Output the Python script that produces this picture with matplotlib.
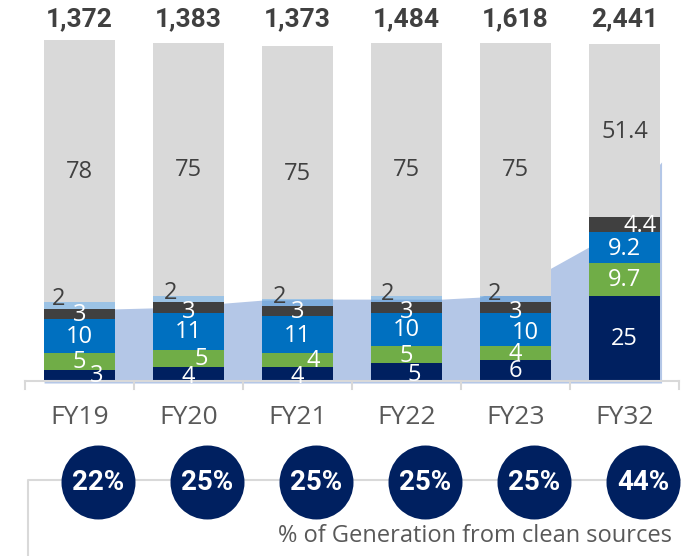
import matplotlib
matplotlib.use('Agg')
import matplotlib.pyplot as plt
from matplotlib import font_manager
import numpy as np

# ---------------- data ----------------
categories = ['FY19', 'FY20', 'FY21', 'FY22', 'FY23', 'FY32']
totals = [1372, 1383, 1373, 1484, 1618, 2441]
seg_navy = [3, 4, 4, 5, 6, 25]
seg_green = [5, 5, 4, 5, 4, 9.7]
seg_blue = [10, 11, 11, 10, 10, 9.2]
seg_dark = [3, 3, 3, 3, 3, 4.4]
seg_light = [2, 2, 2, 2, 2, 0]
seg_gray = [78, 75, 75, 75, 75, 51.4]
clean_pct = [22, 25, 25, 25, 25, 44]
# background trend area (category position, height in % units)
area_x = [-0.325, 0.325, 0.675, 1.325, 1.675, 2.325, 2.675, 3.325, 3.675, 4.325, 4.675, 5.34]
area_y = [20.5, 21.1, 21.4, 22.8, 23.7, 24.0, 24.0, 24.0, 24.6, 33.2, 39.5, 64.7]

# ---------------- fonts ----------------
names = {f.name for f in font_manager.fontManager.ttflist}
BOLD = 'Roboto' if 'Roboto' in names else 'DejaVu Sans'
REG = 'Open Sans' if 'Open Sans' in names else 'DejaVu Sans'
plt.rcParams['font.family'] = [REG, 'DejaVu Sans']

PX = 3.37  # pixels per unit
W, H = 681, 556

fig = plt.figure(figsize=(W / 100, H / 100), dpi=100)
ax = fig.add_axes([25 / W, 0, 654 / W, 1])
ax.set_xlim(-0.5, 5.5)
ax.set_ylim((380 - H) / PX, 380 / PX)
ax.axis('off')
ax.patch.set_visible(False)

x = np.arange(len(categories))
bw = 0.65

# area behind bars
ax.fill_between(area_x, area_y, -0.9, color='#b4c7e7', lw=0, zorder=1)

series = [
    (seg_navy, '#002060', 1.0, 'white'),
    (seg_green, '#70ad47', 1.0, 'white'),
    (seg_blue, '#0070c0', 1.0, 'white'),
    (seg_dark, '#404040', 1.0, 'white'),
    (seg_light, '#5b9bd5', 0.6, '#404040'),
    (seg_gray, '#d9d9d9', 1.0, '#404040'),
]

offsets = {
    (4, 0): (-21, 8), (4, 1): (-18, 7), (4, 2): (-18, 6), (4, 3): (-19, 6), (4, 4): (-21, 6),
    (0, 0): (17, 0), (1, 1): (13, 0), (1, 2): (16, 0), (0, 3): (8, -2), (2, 4): (10, -3),
    (3, 5): (16, 0), (0, 1): (0, -3), (0, 2): (0, -3), (3, 1): (0, -3), (3, 3): (0, -3),
    (3, 4): (0, -3),
}

def fmt(v):
    return str(int(v)) if float(v).is_integer() else f"{v}"

bottom = np.zeros(len(categories))
for si, (vals, col, alpha, tcol) in enumerate(series):
    vals = np.array(vals, dtype=float)
    ax.bar(x, vals, bw, bottom=bottom, color=col, alpha=alpha, lw=0, zorder=2)
    for ci, v in enumerate(vals):
        if v <= 0:
            continue
        dx, dy = offsets.get((si, ci), (0, 0))
        ax.annotate(fmt(v), (x[ci], bottom[ci] + v / 2), xytext=(dx, dy - 1),
                    textcoords='offset pixels', ha='center', va='center',
                    fontsize=17, color=tcol, zorder=4)
    bottom += vals

# totals
for i, t in enumerate(totals):
    ax.text(x[i], (380 - 19) / PX, f"{t:,}", ha='center', va='center', fontsize=19,
            fontweight='bold', family=[BOLD, 'DejaVu Sans'], color='#404040')

# x axis line with ticks
yb = (380 - 381) / PX
ax.plot([-0.5, 5.5], [yb, yb], color='#d9d9d9', lw=1.5, zorder=3, clip_on=False)
for b in np.arange(-0.5, 6.0, 1.0):
    ax.plot([b, b], [yb, yb - 8 / PX], color='#d9d9d9', lw=1.5, zorder=3, clip_on=False)

# category labels
for i, c in enumerate(categories):
    ax.text(x[i], (380 - 417) / PX, c, ha='center', va='center', fontsize=19, color='#595959')

# box lines
bx = (28 - 25) / 109 - 0.5
ax.plot([bx, bx, (W - 25) / 109 - 0.5], [(380 - H - 5) / PX, (380 - 480) / PX, (380 - 480) / PX],
        color='#d9d9d9', lw=1.5, zorder=1, clip_on=False)

# circles
cy = (380 - 482) / PX
ax.scatter(x + 0.17, [cy] * len(x), s=(74 * 0.72) ** 2, color='#002060', zorder=5,
           clip_on=False, lw=0)
for i, p in enumerate(clean_pct):
    ax.text(x[i] + 0.17, cy, f"{p}%", ha='center', va='center', fontsize=20,
            fontweight='bold', family=[BOLD, 'DejaVu Sans'], color='white', zorder=6)

ax.text((672 - 25) / 109 - 0.5, (380 - 536) / PX, '% of Generation from clean sources',
        ha='right', va='center', fontsize=17, color='#595959')

fig.savefig('out.png', dpi=100)
